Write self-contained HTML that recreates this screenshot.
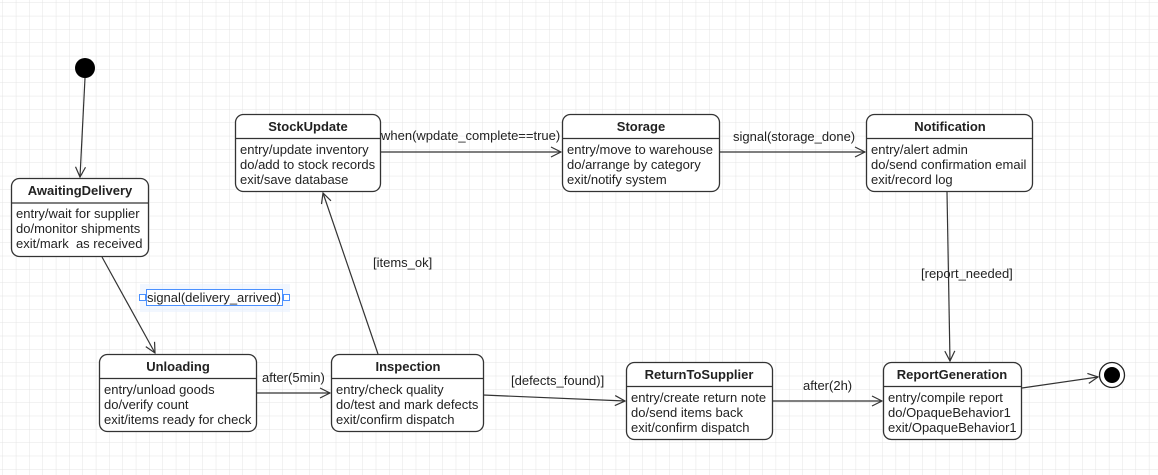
<!DOCTYPE html>
<html><head><meta charset="utf-8"><style>
html,body{margin:0;padding:0;background:#fff}
svg{display:block}
text{font-family:"Liberation Sans",Arial,sans-serif;font-size:13px;fill:#222}
.t{font-weight:bold;text-anchor:middle}
.b{fill:#fff;stroke:#333;stroke-width:1.3}
.l{stroke:#333;stroke-width:1.2;fill:none}
</style></head><body>
<svg width="1158" height="475" xmlns="http://www.w3.org/2000/svg">
<defs>
<pattern id="g" width="13.33" height="13.33" patternUnits="userSpaceOnUse" x="3" y="3">
<path d="M13.33 0V13.33H0" fill="none" stroke="#e4e4e4" stroke-width="1"/>
</pattern>
<marker id="a" markerWidth="12" markerHeight="12" refX="11" refY="6" orient="auto" markerUnits="userSpaceOnUse">
<path d="M1 1L11 6L1 11" fill="none" stroke="#333" stroke-width="1.2"/>
</marker>
</defs>
<rect width="1158" height="475" fill="url(#g)"/>

<line class="l" x1="85" y1="78" x2="80" y2="177" marker-end="url(#a)"/>
<line class="l" x1="102" y1="257" x2="155" y2="353" marker-end="url(#a)"/>
<line class="l" x1="256" y1="393" x2="330" y2="393" marker-end="url(#a)"/>
<line class="l" x1="378" y1="354" x2="323" y2="193" marker-end="url(#a)"/>
<line class="l" x1="380" y1="152" x2="561" y2="152" marker-end="url(#a)"/>
<line class="l" x1="719" y1="152" x2="865" y2="152" marker-end="url(#a)"/>
<line class="l" x1="947" y1="192" x2="950" y2="361" marker-end="url(#a)"/>
<line class="l" x1="483" y1="395" x2="625" y2="401" marker-end="url(#a)"/>
<line class="l" x1="772" y1="401" x2="882" y2="401" marker-end="url(#a)"/>
<line class="l" x1="1022" y1="388" x2="1098" y2="377" marker-end="url(#a)"/>

<text x="262" y="382">after(5min)</text>
<text x="373" y="267">[items_ok]</text>
<text x="381" y="140">when(wpdate_complete==true)</text>
<text x="733" y="141">signal(storage_done)</text>
<text x="921" y="278">[report_needed]</text>
<text x="511" y="385">[defects_found)]</text>
<text x="803" y="390">after(2h)</text>
<rect x="140" y="284" width="150" height="28" fill="#eaf2ff" opacity="0.6"/>
<rect x="146.5" y="289.5" width="136" height="16" fill="#fff" stroke="#4a90ff" stroke-width="1"/>
<rect x="139.5" y="294.5" width="6" height="6" fill="#fff" stroke="#4a90ff"/>
<rect x="283.5" y="294.5" width="6" height="6" fill="#fff" stroke="#4a90ff"/>
<text x="147" y="302" textLength="134">signal(delivery_arrived)</text>

<circle cx="85" cy="68" r="10" fill="#000"/>
<circle cx="1112" cy="375" r="12.5" fill="#fff" stroke="#222" stroke-width="1.3"/>
<circle cx="1112" cy="375" r="8" fill="#000"/>

<g>
<rect class="b" x="11.5" y="178.5" width="137" height="78" rx="8"/>
<line class="l" x1="11.5" y1="203" x2="148.5" y2="203"/>
<text class="t" x="80" y="195">AwaitingDelivery</text>
<text x="16" y="218">entry/wait for supplier</text>
<text x="16" y="233">do/monitor shipments</text>
<text x="16" y="248">exit/mark&#160; as received</text>
</g>
<g>
<rect class="b" x="235.5" y="114.5" width="145" height="77" rx="8"/>
<line class="l" x1="235.5" y1="138.5" x2="380.5" y2="138.5"/>
<text class="t" x="308" y="131">StockUpdate</text>
<text x="240" y="154">entry/update inventory</text>
<text x="240" y="169">do/add to stock records</text>
<text x="240" y="184">exit/save database</text>
</g>
<g>
<rect class="b" x="562.5" y="114.5" width="157" height="77" rx="8"/>
<line class="l" x1="562.5" y1="138.5" x2="719.5" y2="138.5"/>
<text class="t" x="641" y="131">Storage</text>
<text x="567" y="154">entry/move to warehouse</text>
<text x="567" y="169">do/arrange by category</text>
<text x="567" y="184">exit/notify system</text>
</g>
<g>
<rect class="b" x="866.5" y="114.5" width="166" height="77" rx="8"/>
<line class="l" x1="866.5" y1="138.5" x2="1032.5" y2="138.5"/>
<text class="t" x="950" y="131">Notification</text>
<text x="871" y="154">entry/alert admin</text>
<text x="871" y="169">do/send confirmation email</text>
<text x="871" y="184">exit/record log</text>
</g>
<g>
<rect class="b" x="99.5" y="354.5" width="157" height="77" rx="8"/>
<line class="l" x1="99.5" y1="378.5" x2="256.5" y2="378.5"/>
<text class="t" x="178" y="371">Unloading</text>
<text x="104" y="394">entry/unload goods</text>
<text x="104" y="409">do/verify count</text>
<text x="104" y="424">exit/items ready for check</text>
</g>
<g>
<rect class="b" x="331.5" y="354.5" width="152" height="77" rx="8"/>
<line class="l" x1="331.5" y1="378.5" x2="483.5" y2="378.5"/>
<text class="t" x="408" y="371">Inspection</text>
<text x="336" y="394">entry/check quality</text>
<text x="336" y="409">do/test and mark defects</text>
<text x="336" y="424">exit/confirm dispatch</text>
</g>
<g>
<rect class="b" x="626.5" y="362.5" width="146" height="77" rx="8"/>
<line class="l" x1="626.5" y1="386.5" x2="772.5" y2="386.5"/>
<text class="t" x="699" y="379">ReturnToSupplier</text>
<text x="631" y="402">entry/create return note</text>
<text x="631" y="417">do/send items back</text>
<text x="631" y="432">exit/confirm dispatch</text>
</g>
<g>
<rect class="b" x="883.5" y="362.5" width="138" height="77" rx="8"/>
<line class="l" x1="883.5" y1="386.5" x2="1021.5" y2="386.5"/>
<text class="t" x="952" y="379">ReportGeneration</text>
<text x="888" y="402">entry/compile report</text>
<text x="888" y="417">do/OpaqueBehavior1</text>
<text x="888" y="432">exit/OpaqueBehavior1</text>
</g>
</svg>
</body></html>
